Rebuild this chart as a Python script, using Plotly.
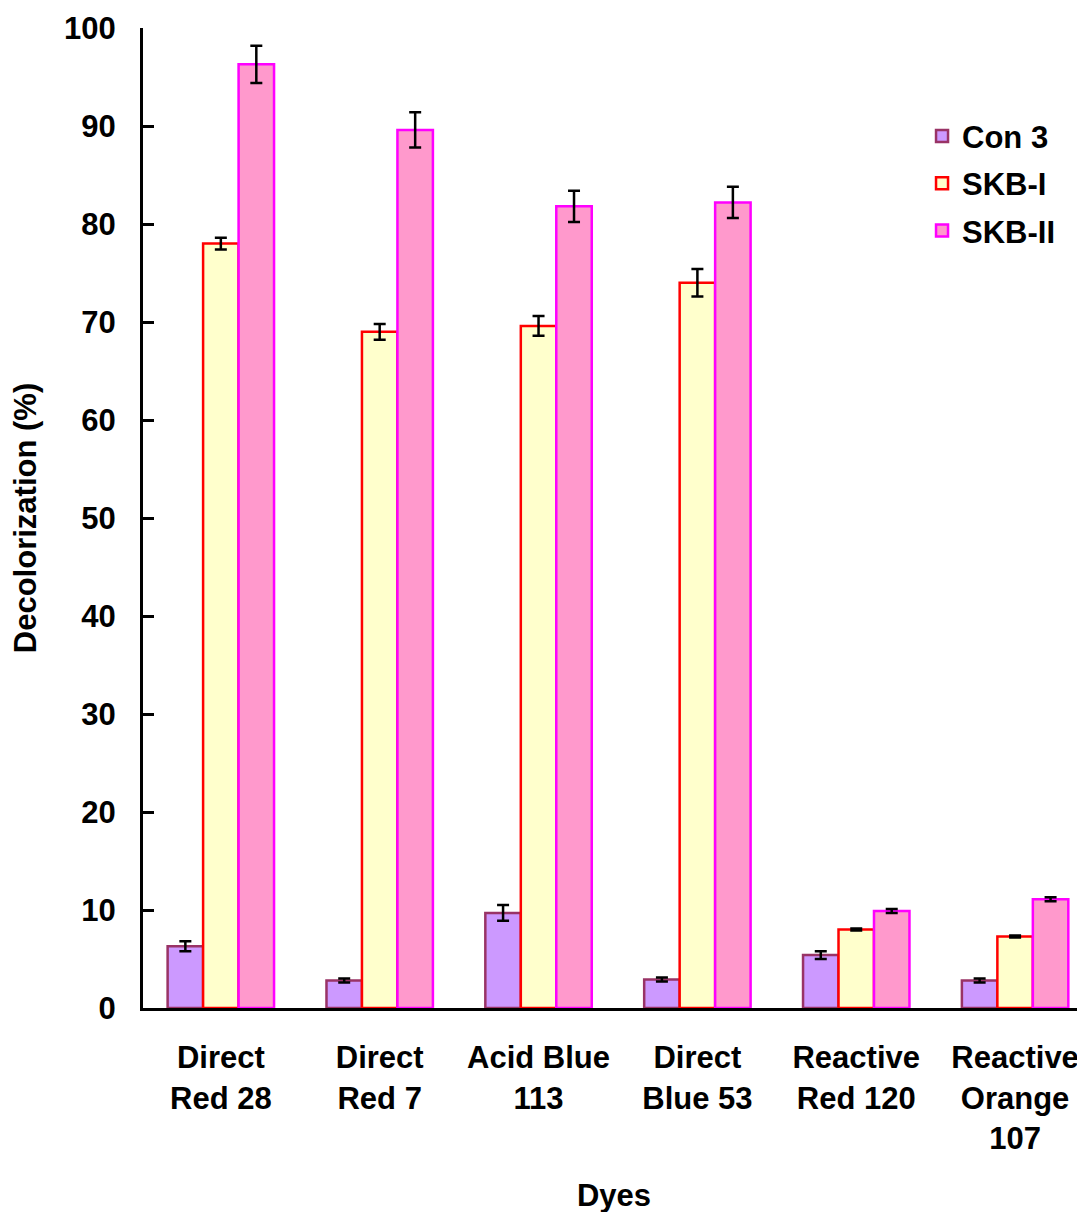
import plotly.graph_objects as go

categories = ["Direct<br>Red 28", "Direct<br>Red 7", "Acid Blue<br>113", "Direct<br>Blue 53",
              "Reactive<br>Red 120", "Reactive<br>Orange<br>107"]
con3 = [6.3, 2.8, 9.7, 2.9, 5.4, 2.8]
con3_err = [0.5, 0.2, 0.8, 0.2, 0.4, 0.2]
skb1 = [78.0, 69.0, 69.6, 74.0, 8.0, 7.3]
skb1_err = [0.6, 0.8, 1.0, 1.4, 0.1, 0.1]
skb2 = [96.3, 89.6, 81.8, 82.2, 9.9, 11.1]
skb2_err = [1.9, 1.8, 1.6, 1.6, 0.2, 0.2]
yticks = list(range(0, 101, 10))

FONT = "Liberation Sans, Arial, sans-serif"
FS = 31

series = [
    ("Con 3", con3, con3_err, "#CC99FF", "#993366"),
    ("SKB-I", skb1, skb1_err, "#FFFFCC", "#FF0000"),
    ("SKB-II", skb2, skb2_err, "#FF99CC", "#FF00FF"),
]

fig = go.Figure()
for i, (name, vals, errs, fill, line) in enumerate(series):
    fig.add_trace(go.Bar(
        name=name, x=categories, y=vals,
        marker=dict(color=fill, line=dict(color=line, width=2.5)),
        error_y=dict(type="data", array=errs, visible=True, color="black",
                     thickness=2.5, width=6),
        legendgroup=name,
    ))

fig.update_layout(
    width=1085, height=1212,
    paper_bgcolor="white", plot_bgcolor="white",
    barmode="group", bargap=0.33, bargroupgap=0,
    margin=dict(l=135, r=8, t=20, b=212, autoexpand=False),
    font=dict(family=FONT, size=FS, color="black", weight="bold"),
    legend=dict(x=0.827, y=0.917, xanchor="left", yanchor="top",
                font=dict(family=FONT, size=FS, color="black", weight="bold"),
                traceorder="grouped", tracegroupgap=4,
                bgcolor="rgba(0,0,0,0)"),
    xaxis=dict(
        showline=True, linecolor="black", linewidth=3,
        ticks="", range=[-0.49, 5.44],
        tickfont=dict(family=FONT, size=FS, weight="bold"),
        title=dict(text="Dyes", font=dict(family=FONT, size=FS, weight="bold"), standoff=30),
        ticklabelstandoff=20,
    ),
    yaxis=dict(
        range=[0, 100], tickvals=yticks, showgrid=False, zeroline=False,
        showline=True, linecolor="black", linewidth=3,
        ticks="inside", ticklen=11, tickwidth=3, tickcolor="black",
        tickfont=dict(family=FONT, size=FS, weight="bold"),
        ticklabelstandoff=18,
        title=dict(text="Decolorization (%)", font=dict(family=FONT, size=FS, weight="bold"), standoff=22),
    ),
)

fig.write_html("out.html")
